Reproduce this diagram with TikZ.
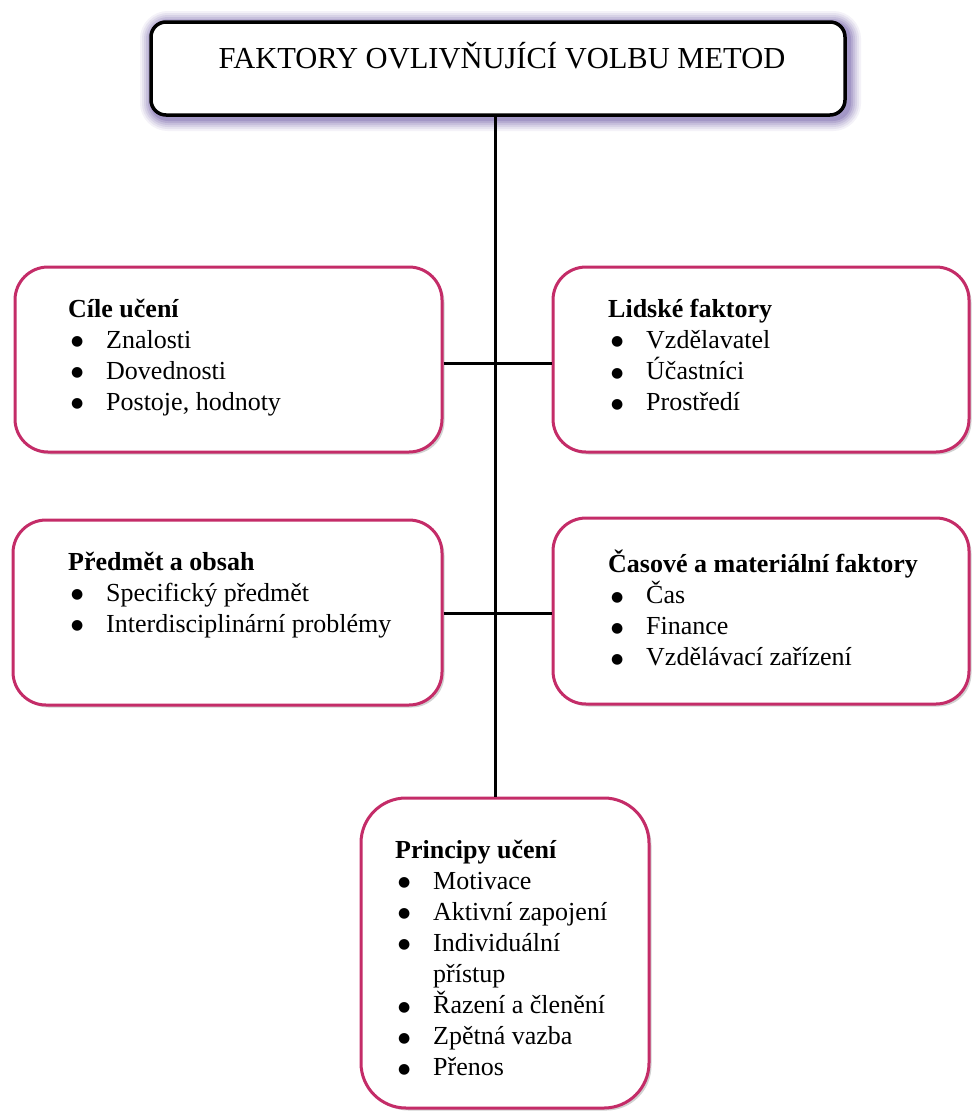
\documentclass[tikz,border=0pt]{standalone}
\usepackage{fontspec}
\setmainfont{Liberation Serif}
\newfontfamily\symfont{DejaVu Sans}
\usetikzlibrary{shadows}
\definecolor{pinkb}{RGB}{196,44,104}
\definecolor{glowc}{RGB}{110,90,165}
\tikzset{
  topbox/.style={draw=black, line width=3.5pt, rounded corners=15pt, fill=white, inner sep=0pt},
  sidebox/.style={draw=pinkb, line width=3pt, rounded corners=33pt, fill=white, inner sep=0pt,
    drop shadow={shadow xshift=2.5pt, shadow yshift=-2.5pt, opacity=0.3, fill=black!60}},
  conn/.style={line width=3pt, draw=black},
  txt/.style={font=\fontsize{26}{31}\selectfont, inner sep=0pt, anchor=base west},
  titletxt/.style={font=\fontsize{30.5}{36}\selectfont, inner sep=0pt, anchor=base}
}
\newcommand{\bul}{\hspace{3pt}\raisebox{2.5pt}{\symfont\fontsize{14}{14}\selectfont ●}}
\begin{document}
\begin{tikzpicture}[x=1pt,y=-1pt]
\useasboundingbox (0,0) rectangle (973,1111);
% glow of the title box
\foreach \w/\o in {26/0.08,22/0.1,18/0.12,14/0.15,10/0.2,6/0.25}
  \draw[line width=\w pt, draw=glowc, opacity=\o, rounded corners=15pt] (153,24) rectangle (848,118);
% boxes
\node[topbox, minimum width=694pt, minimum height=93pt] (top) at (498,68.5) {};
\node[sidebox, minimum width=427pt, minimum height=185pt] (c1) at (228.5,359.5) {};
\node[sidebox, minimum width=416pt, minimum height=185pt] (l1) at (761,359.5) {};
\node[sidebox, minimum width=429pt, minimum height=185pt] (c2) at (227.5,612.5) {};
\node[sidebox, minimum width=416pt, minimum height=186pt] (l2) at (761,611) {};
\node[sidebox, rounded corners=45pt, minimum width=288pt, minimum height=310pt] (bot) at (505,953) {};
% connectors
\coordinate (sp) at (495,0);
\coordinate (h1) at (495,363);
\coordinate (h2) at (495,613);
\draw[conn] (top.south -| sp) -- (bot.north -| sp);
\draw[conn] (c1.east |- h1) -- (l1.west |- h1);
\draw[conn] (c2.east |- h2) -- (l2.west |- h2);
% texts
\node[titletxt] (tt) at (502,68) {FAKTORY OVLIVŇUJÍCÍ VOLBU METOD};
\node[txt] (c1t) at (68,317) {\begin{tabular}[t]{@{}p{38pt}@{}l@{}}
\multicolumn{2}{@{}l@{}}{\textbf{Cíle učení}}\\
\bul & Znalosti\\
\bul & Dovednosti\\
\bul & Postoje, hodnoty
\end{tabular}};
\node[txt] (l1t) at (608,317) {\begin{tabular}[t]{@{}p{38pt}@{}l@{}}
\multicolumn{2}{@{}l@{}}{\textbf{Lidské faktory}}\\
\bul & Vzdělavatel\\
\bul & Účastníci\\
\bul & Prostředí
\end{tabular}};
\node[txt] (c2t) at (68,570) {\begin{tabular}[t]{@{}p{38pt}@{}l@{}}
\multicolumn{2}{@{}l@{}}{\textbf{Předmět a obsah}}\\
\bul & Specifický předmět\\
\bul & Interdisciplinární problémy
\end{tabular}};
\node[txt] (l2t) at (608,572) {\begin{tabular}[t]{@{}p{38pt}@{}l@{}}
\multicolumn{2}{@{}l@{}}{\textbf{Časové a materiální faktory}}\\
\bul & Čas\\
\bul & Finance\\
\bul & Vzdělávací zařízení
\end{tabular}};
\node[txt] (bt) at (395,858) {\begin{tabular}[t]{@{}p{38pt}@{}l@{}}
\multicolumn{2}{@{}l@{}}{\textbf{Principy učení}}\\
\bul & Motivace\\
\bul & Aktivní zapojení\\
\bul & Individuální\\
 & přístup\\
\bul & Řazení a členění\\
\bul & Zpětná vazba\\
\bul & Přenos
\end{tabular}};
\end{tikzpicture}
\end{document}
